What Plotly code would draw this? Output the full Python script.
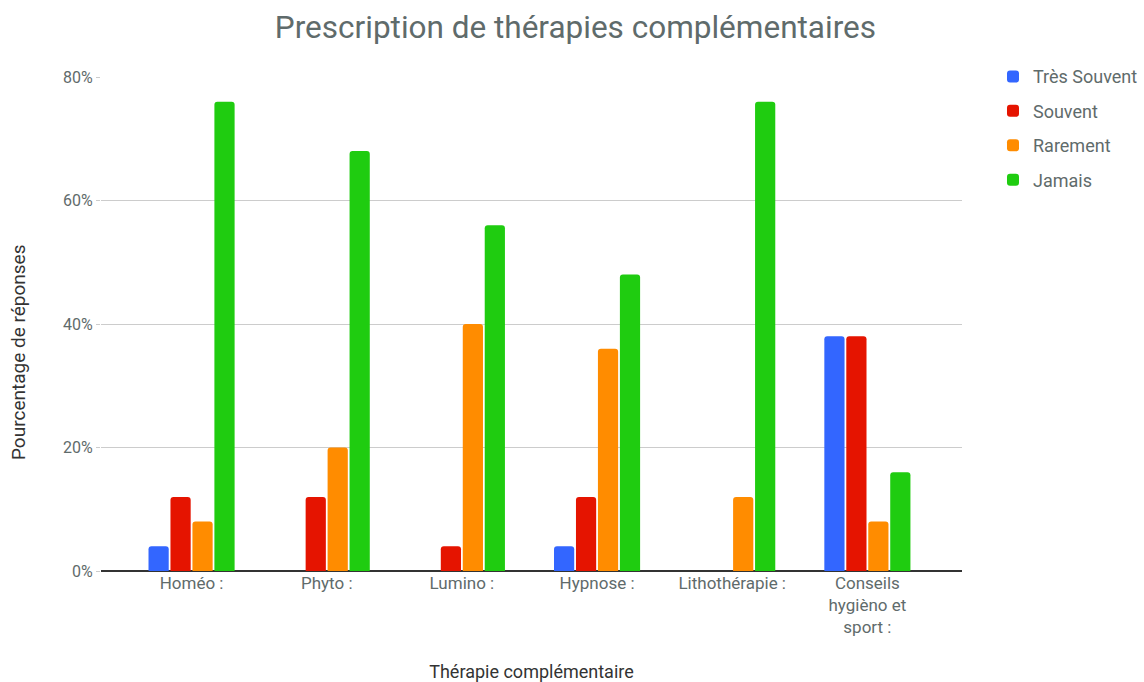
import plotly.graph_objects as go

categories = ["Homéo :", "Phyto :", "Lumino :", "Hypnose :", "Lithothérapie :",
              "Conseils<br>hygièno et<br>sport :"]
tres_souvent = [4, 0, 0, 4, 0, 38]
souvent = [12, 12, 4, 12, 0, 38]
rarement = [8, 20, 40, 36, 12, 8]
jamais = [76, 68, 56, 48, 76, 16]
y_ticks = [0, 20, 40, 60, 80]
y_tick_labels = ["0%", "20%", "40%", "60%", "80%"]

series = [
    ("Très Souvent", tres_souvent, "#3366ff"),
    ("Souvent", souvent, "#e51400"),
    ("Rarement", rarement, "#ff8c00"),
    ("Jamais", jamais, "#1fcc10"),
]

grey = "#5f6b6b"
fig = go.Figure()
for name, vals, col in series:
    fig.add_trace(go.Bar(x=list(range(len(categories))), y=vals, name=name,
                         marker=dict(color=col, line=dict(width=0)),
                         legendgroup=name, hoverinfo="y+name"))

fig.add_annotation(text="Pourcentage de réponses", textangle=-90,
                   xref="paper", yref="paper",
                   x=(18 - 101) / 861, y=(571 - 352) / 494,
                   xanchor="center", yanchor="middle", showarrow=False,
                   font=dict(size=19, color="#333333"))

fig.update_layout(
    width=1144, height=682,
    paper_bgcolor="white", plot_bgcolor="white",
    font=dict(family="Roboto", color=grey, size=16),
    title=dict(text="Prescription de thérapies complémentaires",
               x=0.503, xref="container", xanchor="center",
               y=0.961, yref="container", yanchor="middle",
               font=dict(size=31.5, color=grey)),
    margin=dict(l=101, r=182, t=77, b=111, autoexpand=False),
    barmode="group", bargap=0.35, bargroupgap=0.08, barcornerradius=3,
    legend=dict(x=1.036, y=1.038, xanchor="left", yanchor="top",
                font=dict(size=18, color=grey), tracegroupgap=8,
                itemclick=False),
    xaxis=dict(tickmode="array", tickvals=list(range(len(categories))),
               ticktext=categories, range=[-0.67, 5.70],
               showgrid=False, zeroline=False, automargin=False,
               ticks="", tickfont=dict(size=17, color=grey),
               title=dict(text="Thérapie complémentaire",
                          font=dict(size=18, color="#333333"), standoff=72)),
    yaxis=dict(range=[0, 80], tickmode="array", tickvals=y_ticks,
               ticktext=y_tick_labels, automargin=False,
               showgrid=True, gridcolor="#cccccc", gridwidth=1,
               zeroline=True, zerolinecolor="#333333", zerolinewidth=2,
               tickfont=dict(size=16, color=grey),
               ticks="outside", tickcolor="#cccccc", ticklen=4),
)

fig.write_html("out.html", config={"displayModeBar": False},
               post_script="document.body.style.margin='0';document.body.style.overflow='hidden';")
